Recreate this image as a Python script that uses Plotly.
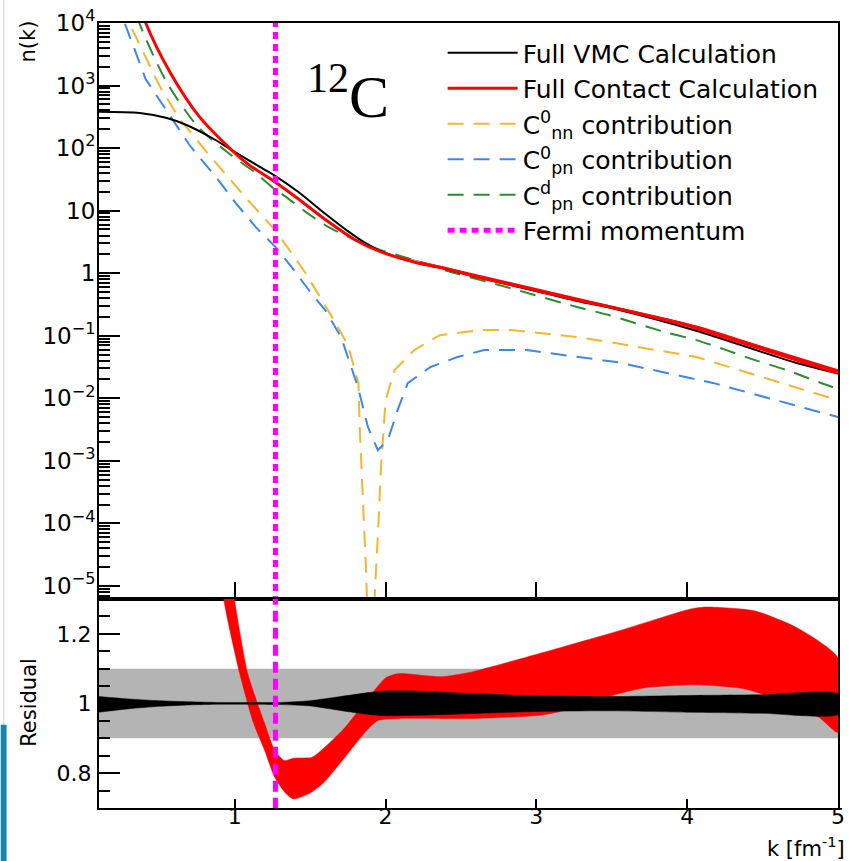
import plotly.graph_objects as go
from plotly.subplots import make_subplots

# ---------------- data ----------------
k_fermi = 1.27

vmc_k = [0.10, 0.37, 0.55, 0.68, 0.85, 0.98, 1.20, 1.26, 1.42, 1.60, 1.75, 1.86, 1.97,
         2.19, 2.39, 2.61, 2.94, 3.27, 3.53, 4.06, 4.72, 5.00]
vmc_n = [380, 363, 302, 234, 145, 93, 45, 37, 20, 8.9, 4.7, 3.1, 2.24,
         1.50, 1.18, 0.86, 0.56, 0.36, 0.265, 0.12, 0.037, 0.025]

contact_k = [0.35, 0.41, 0.57, 0.76, 0.98, 1.09, 1.26, 1.42, 1.60, 1.80, 1.97,
             2.19, 2.39, 2.61, 2.94, 3.27, 3.53, 4.06, 4.72, 5.00]
contact_n = [28000, 10000, 1650, 331, 93, 55, 29.5, 15.5, 7.2, 3.4, 2.19,
             1.51, 1.20, 0.87, 0.575, 0.372, 0.275, 0.138, 0.0427, 0.0263]

# uncertainty band of the contact calculation (top panel)
contact_band_k = [1.97, 3.00, 4.00, 5.00]
contact_band_hi = [2.19, 0.569, 0.158, 0.0292]
contact_band_lo = [2.19, 0.531, 0.138, 0.0237]

cnn_k = [0.27, 0.30, 0.50, 0.63, 0.83, 0.96, 1.09, 1.20, 1.27, 1.36, 1.47, 1.57, 1.67,
         1.75, 1.82, 1.83, 1.85, 1.87, 1.90, 1.93, 1.95, 1.97, 2.00, 2.06, 2.19, 2.36,
         2.63, 2.83, 3.27, 3.53, 4.06, 4.72, 5.00]
cnn_n = [20000, 10000, 1000, 302, 77.6, 33.1, 14.5, 7.41, 4.79, 2.40, 1.0, 0.398, 0.158,
         0.0708, 0.0178, 0.00282, 2.5e-4, 2.0e-5, 1e-7, 8.7e-6, 7.1e-5, 7.9e-4, 0.0093,
         0.0282, 0.0589, 0.102, 0.123, 0.123, 0.0955, 0.0759, 0.0457, 0.0151, 0.0093]

cpn0_k = [0.25, 0.27, 0.41, 0.70, 0.743, 0.875, 1.007, 1.138, 1.27, 1.376, 1.507, 1.60,
          1.705, 1.817, 1.883, 1.949, 2.015, 2.08, 2.147, 2.298, 2.476, 2.654, 2.937,
          3.267, 3.53, 4.17, 4.717, 5.00]
cpn0_n = [25000, 10000, 1260, 112, 83, 34.7, 13.2, 5.5, 2.63, 1.26, 0.479, 0.257,
          0.0955, 0.0151, 0.00347, 0.00148, 0.00214, 0.00646, 0.0174, 0.0316, 0.0457,
          0.0589, 0.0589, 0.0457, 0.038, 0.0176, 0.0078, 0.0050]

cpnd_k = [0.30, 0.367, 0.55, 0.76, 0.98, 1.14, 1.26, 1.34, 1.47, 1.62, 1.80, 1.97, 2.19,
          2.39, 2.83, 3.27, 3.48, 3.85, 4.06, 4.26, 4.45, 4.66, 4.87, 5.00]
cpnd_n = [31600, 10000, 1122, 214, 75.9, 39.8, 22.4, 16.6, 9.55, 5.50, 3.39, 2.34, 1.62,
          1.12, 0.575, 0.288, 0.214, 0.115, 0.0851, 0.0589, 0.0407, 0.0282, 0.0182, 0.0141]

# residual panel
gray_k = [0.1, 5.0]
gray_lo = 0.9
gray_hi = 1.1

vmc_res_k = [0.10, 0.30, 0.50, 0.70, 0.90, 1.10, 1.30, 1.50, 1.70, 1.90, 2.00, 2.20,
             2.50, 3.00, 3.50, 4.00, 4.50, 5.00]
vmc_res_hi = [1.020, 1.013, 1.008, 1.005, 1.003, 1.003, 1.003, 1.008, 1.020, 1.032, 1.036,
              1.036, 1.030, 1.022, 1.020, 1.023, 1.025, 1.027]
vmc_res_lo = [0.975, 0.985, 0.992, 0.996, 0.998, 0.998, 0.997, 0.993, 0.980, 0.968, 0.965,
              0.966, 0.970, 0.977, 0.979, 0.975, 0.972, 0.969]

contact_res_hi_k = [0.95, 1.00, 1.086, 1.198, 1.264, 1.33, 1.389, 1.514, 1.626, 1.731, 1.837,
                    1.942, 2.002, 2.087, 2.265, 2.371, 2.555, 3.016, 3.55, 4.018, 4.124,
                    4.447, 4.73, 5.00]
contact_res_hi = [1.45, 1.294, 1.086, 0.943, 0.866, 0.836, 0.843, 0.846, 0.886, 0.931, 0.989,
                  1.046, 1.074, 1.086, 1.080, 1.077, 1.089, 1.143, 1.209, 1.271, 1.277,
                  1.266, 1.217, 1.131]
contact_res_lo_k = [0.90, 0.928, 1.033, 1.125, 1.198, 1.264, 1.336, 1.389, 1.50, 1.586, 1.731,
                    1.876, 1.949, 2.09, 2.41, 2.59, 3.016, 3.19, 3.55, 3.73, 4.05, 4.37,
                    4.62, 4.875, 5.00]
contact_res_lo = [1.45, 1.297, 1.086, 0.943, 0.866, 0.789, 0.743, 0.726, 0.743, 0.771, 0.846,
                  0.923, 0.951, 0.957, 0.957, 0.957, 0.966, 0.980, 1.029, 1.046, 1.054, 1.043,
                  1.009, 0.960, 0.917]

y_major = [1e-5, 1e-4, 1e-3, 1e-2, 1e-1, 1, 10, 1e2, 1e3, 1e4]
y_major_text = ["10<sup>−5</sup>", "10<sup>−4</sup>", "10<sup>−3</sup>", "10<sup>−2</sup>",
                "10<sup>−1</sup>", "1", "10", "10<sup>2</sup>", "10<sup>3</sup>", "10<sup>4</sup>"]
res_major = [0.8, 1.0, 1.2]
res_major_text = ["0.8", "1", "1.2"]
x_major = [1, 2, 3, 4, 5]
x_major_text = ["1", "2", "3", "4", "5"]

# ---------------- styling ----------------
FONT = "DejaVu Sans"
ORANGE = "#f2b630"
BLUE = "#3f86e8"
GREEN = "#2e8b2e"
MAGENTA = "#ff00ff"
DASH = "16px,10px"

fig = make_subplots(rows=2, cols=1, shared_xaxes=True, vertical_spacing=0,
                    row_heights=[0.734, 0.266])

# top panel
fig.add_trace(go.Scatter(x=cnn_k, y=cnn_n, mode="lines", name="C<sup>0</sup><sub>nn</sub> contribution",
                         line=dict(color=ORANGE, width=2, dash=DASH), legendrank=3), 1, 1)
fig.add_trace(go.Scatter(x=cpn0_k, y=cpn0_n, mode="lines", name="C<sup>0</sup><sub>pn</sub> contribution",
                         line=dict(color=BLUE, width=2, dash=DASH), legendrank=4), 1, 1)
fig.add_trace(go.Scatter(x=cpnd_k, y=cpnd_n, mode="lines", name="C<sup>d</sup><sub>pn</sub> contribution",
                         line=dict(color=GREEN, width=2, dash=DASH, shape="spline", smoothing=0.8),
                         legendrank=5), 1, 1)
fig.add_trace(go.Scatter(x=vmc_k, y=vmc_n, mode="lines", name="Full VMC Calculation",
                         line=dict(color="black", width=2, shape="spline", smoothing=0.8),
                         legendrank=1), 1, 1)
fig.add_trace(go.Scatter(x=contact_band_k + contact_band_k[::-1],
                         y=contact_band_hi + contact_band_lo[::-1],
                         mode="lines", fill="toself", fillcolor="red",
                         line=dict(color="red", width=0),
                         showlegend=False, hoverinfo="skip"), 1, 1)
fig.add_trace(go.Scatter(x=contact_k, y=contact_n, mode="lines", name="Full Contact Calculation",
                         line=dict(color="red", width=3, shape="spline", smoothing=0.8),
                         legendrank=2), 1, 1)
fig.add_trace(go.Scatter(x=[k_fermi, k_fermi], y=[1e-7, 1e6], mode="lines", name="Fermi momentum",
                         line=dict(color=MAGENTA, width=5, dash="7px,5px"), legendrank=6), 1, 1)

# residual panel
fig.add_trace(go.Scatter(x=gray_k + gray_k[::-1], y=[gray_lo, gray_lo, gray_hi, gray_hi],
                         mode="lines", fill="toself", fillcolor="#b4b4b4",
                         line=dict(width=0, color="#b4b4b4"), showlegend=False), 2, 1)
fig.add_trace(go.Scatter(x=contact_res_hi_k + contact_res_lo_k[::-1],
                         y=contact_res_hi + contact_res_lo[::-1],
                         mode="lines", fill="toself", fillcolor="red",
                         line=dict(width=0.5, color="red", shape="spline", smoothing=0.6),
                         showlegend=False), 2, 1)
fig.add_trace(go.Scatter(x=vmc_res_k + vmc_res_k[::-1],
                         y=vmc_res_hi + vmc_res_lo[::-1],
                         mode="lines", fill="toself", fillcolor="black",
                         line=dict(width=0.5, color="black", shape="spline", smoothing=0.6),
                         showlegend=False), 2, 1)
fig.add_trace(go.Scatter(x=[k_fermi, k_fermi], y=[0.6, 1.4], mode="lines",
                         line=dict(color=MAGENTA, width=5, dash="11px,6px"), showlegend=False), 2, 1)

axis_common = dict(showline=True, linewidth=2, linecolor="black", mirror=True,
                   showgrid=False, zeroline=False, ticks="inside", tickcolor="black",
                   tickwidth=2, tickfont=dict(family=FONT, size=22, color="black"))

minor_log = [m * 10 ** e for e in range(-6, 4) for m in range(2, 10)]

fig.update_layout(
    width=850, height=861,
    margin=dict(l=99, r=5, t=23, b=53),
    paper_bgcolor="white", plot_bgcolor="white",
    font=dict(family=FONT, color="black"),
    xaxis=dict(axis_common, range=[0.1, 5], tickvals=x_major, ticklen=17,
               showticklabels=False),
    xaxis2=dict(axis_common, range=[0.1, 5], tickvals=x_major, ticktext=x_major_text,
                ticklen=9, showticklabels=True, ticklabelstandoff=-12),
    yaxis=dict(axis_common, type="log", range=[-5.21, 4], domain=[0.2662, 1],
               tickvals=y_major, ticktext=y_major_text, ticklen=21, ticklabelstandoff=-3,
               tickfont=dict(family=FONT, size=23, color="black"),
               minor=dict(tickvals=minor_log, ticks="inside", ticklen=11, tickwidth=1.5,
                          tickcolor="black", showgrid=False)),
    yaxis2=dict(axis_common, range=[0.7, 1.3], domain=[0, 0.2662],
                tickvals=res_major, ticktext=res_major_text, ticklen=21, ticklabelstandoff=1,
                minor=dict(dtick=0.05, tick0=0, ticks="inside", ticklen=11, tickwidth=1.5,
                           tickcolor="black", showgrid=False)),
    legend=dict(x=0.465, y=0.991, xanchor="left", yanchor="top",
                bgcolor="rgba(0,0,0,0)", borderwidth=0, itemwidth=70,
                font=dict(family=FONT, size=25, color="black"),
                traceorder="normal"),
    showlegend=True,
)

fig.add_annotation(text="n(k)", xref="paper", yref="paper", x=-0.0965, y=0.976,
                   textangle=-90, showarrow=False, xanchor="center", yanchor="middle",
                   font=dict(family=FONT, size=21, color="black"))
fig.add_annotation(text="Residual", xref="paper", yref="paper", x=-0.095, y=0.135,
                   textangle=-90, showarrow=False, xanchor="center", yanchor="middle",
                   font=dict(family=FONT, size=21, color="black"))
fig.add_annotation(text="k [fm<sup>-1</sup>]", xref="paper", yref="paper", x=1.012, y=-0.05,
                   showarrow=False, xanchor="right", yanchor="middle",
                   font=dict(family=FONT, size=21, color="black"))
fig.add_annotation(text="<sup>12</sup>C", xref="paper", yref="paper", x=0.3365, y=0.912,
                   showarrow=False, xanchor="center", yanchor="middle",
                   font=dict(family="Liberation Serif", size=60, color="black"))

# slide decorations at left edge
fig.add_shape(type="line", xref="paper", yref="paper", x0=-0.1287, x1=-0.1287, y0=1.03, y1=0.106,
              line=dict(color="#d0d0d0", width=1))
fig.add_shape(type="rect", xref="paper", yref="paper", x0=-0.1330, x1=-0.1250, y0=0.106, y1=-0.07,
              fillcolor="#1a84a6", line=dict(width=0))

fig.write_html("out.html", config={"displayModeBar": False},
               post_script="document.body.style.margin='0px';document.body.style.padding='0px';")
